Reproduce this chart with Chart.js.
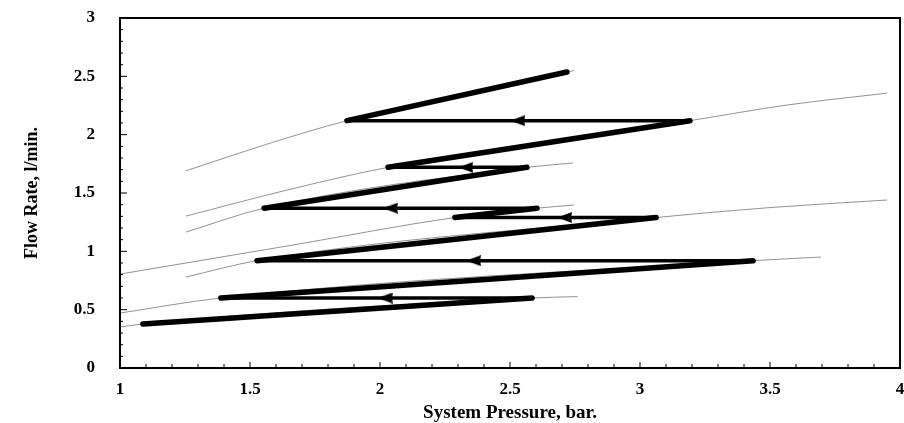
<!DOCTYPE html>
<html lang="en">
<head>
  <meta charset="UTF-8" />
  <title>Flow Rate vs System Pressure</title>
  <script src="https://cdn.jsdelivr.net/npm/chart.js"></script>
  <style>
    body {
      margin: 0;
      padding: 0;
      background: #fff;
    }
    .wrap {
      width: 904px;
      height: 423px;
      position: relative;
    }
  </style>
</head>
<body>
  <div class="wrap"><canvas id="flowChart"></canvas></div>
<script>
// zigzag test path: pressure (bar) and flow (l/min) at each turning point
const pathPressure = [1.088, 2.585, 1.388, 3.435, 1.527, 3.062, 2.288, 2.604, 1.554, 2.565, 2.031, 3.192, 1.873, 2.719];
const pathFlow     = [0.377, 0.60,  0.60,  0.92,  0.92,  1.29,  1.29,  1.37,  1.37,  1.72,  1.72,  2.12,  2.12,  2.537];

// arrow heads on the pressure-drop legs
const arrowPressure = [2.02, 2.36, 2.71, 2.04, 2.33, 2.53];
const arrowFlow     = [0.60, 0.92, 1.29, 1.37, 1.72, 2.12];

// thin fitted curves [pressure, flow]
const curve1 = [[1.254, 1.69], [1.56, 1.915], [1.873, 2.12], [2.719, 2.537], [2.746, 2.55]];
const curve2 = [[1.254, 1.302], [1.642, 1.525], [2.031, 1.72], [3.192, 2.12], [3.569, 2.255], [3.95, 2.356]];
const curve3 = [[1.254, 1.165], [1.554, 1.37], [2.565, 1.72], [2.742, 1.757]];
const curve4 = [[1.0, 0.805], [1.654, 1.05], [2.288, 1.29], [2.604, 1.37], [2.746, 1.397]];
const curve5 = [[1.254, 0.78], [1.527, 0.92], [3.062, 1.29], [3.5, 1.375], [3.95, 1.44]];
const curve6 = [[1.0, 0.471], [1.388, 0.60], [3.435, 0.92], [3.696, 0.951]];
const curve7 = [[1.0, 0.351], [1.088, 0.377], [2.585, 0.60], [2.76, 0.612]];

const xTicks = [1, 1.5, 2, 2.5, 3, 3.5, 4];
const yTicks = [0, 0.5, 1, 1.5, 2, 2.5, 3];

const serif = "'Liberation Serif', 'Times New Roman', serif";

// left pointing arrow head used as point style
const arrowImg = document.createElement("canvas");
arrowImg.width = 15;
arrowImg.height = 11;
(function () {
  const c = arrowImg.getContext("2d");
  c.fillStyle = "#000";
  c.beginPath();
  c.moveTo(0, 5.5);
  c.lineTo(15, 0);
  c.lineTo(14, 5.5);
  c.lineTo(15, 11);
  c.closePath();
  c.fill();
})();

const curveSets = [curve1, curve2, curve3, curve4, curve5, curve6, curve7].map(c => ({
  data: c.map(p => ({ x: p[0], y: p[1] })),
  showLine: true,
  borderColor: "#929292",
  borderWidth: 1,
  pointRadius: 0,
  cubicInterpolationMode: "monotone",
  order: 2
}));

// frame and inward tick marks
const framePlugin = {
  id: "frame",
  afterDraw(chart) {
    const { ctx, chartArea: a, scales } = chart;
    ctx.save();
    ctx.strokeStyle = "#000";
    ctx.lineWidth = 1;
    for (let i = 10; i <= 40; i++) {
      const px = scales.x.getPixelForValue(i / 10);
      const len = i % 5 === 0 ? 6 : 4;
      ctx.beginPath();
      ctx.moveTo(px, a.bottom);
      ctx.lineTo(px, a.bottom - len);
      ctx.stroke();
    }
    for (let i = 0; i <= 30; i++) {
      const py = scales.y.getPixelForValue(i / 10);
      const len = i % 5 === 0 ? 7 : 3;
      ctx.beginPath();
      ctx.moveTo(a.left, py);
      ctx.lineTo(a.left + len, py);
      ctx.stroke();
    }
    ctx.lineWidth = 2;
    ctx.strokeRect(a.left, a.top, a.right - a.left, a.bottom - a.top);
    ctx.restore();
  }
};

new Chart(document.getElementById("flowChart"), {
  type: "scatter",
  data: {
    datasets: [
      {
        data: arrowPressure.map((p, i) => ({ x: p, y: arrowFlow[i] })),
        showLine: false,
        pointStyle: arrowImg,
        pointRadius: 7,
        order: 0
      },
      {
        data: pathPressure.map((p, i) => ({ x: p, y: pathFlow[i] })),
        showLine: true,
        borderColor: "#000",
        borderWidth: 5,
        borderCapStyle: "round",
        pointRadius: 0,
        tension: 0,
        segment: {
          borderWidth: ctx => Math.abs(ctx.p0.parsed.y - ctx.p1.parsed.y) < 0.01 ? 3.5 : 5.5
        },
        order: 1
      },
      ...curveSets
    ]
  },
  options: {
    responsive: true,
    maintainAspectRatio: false,
    animation: false,
    layout: { autoPadding: false, padding: { top: 18, right: 4, left: 0, bottom: 0 } },
    plugins: {
      legend: { display: false },
      tooltip: { enabled: false }
    },
    scales: {
      x: {
        type: "linear",
        min: 1,
        max: 4,
        grid: { display: false },
        border: { display: false },
        afterBuildTicks: s => { s.ticks = xTicks.map(v => ({ value: v })); },
        afterFit: s => {
          s.height = 55;
          s.paddingLeft = 0;
          s.paddingRight = 0;
        },
        ticks: {
          color: "#000",
          padding: 3,
          maxRotation: 0,
          callback: v => String(v),
          font: { family: serif, size: 17, weight: "bold" }
        },
        title: {
          display: true,
          text: "System Pressure, bar.",
          color: "#000",
          padding: 0,
          font: { family: serif, size: 19, weight: "bold", lineHeight: 1.0 }
        }
      },
      y: {
        type: "linear",
        min: 0,
        max: 3,
        grid: { display: false },
        border: { display: false },
        afterBuildTicks: s => { s.ticks = yTicks.map(v => ({ value: v })); },
        afterFit: s => {
          s.width = 120;
          s.paddingTop = 0;
          s.paddingBottom = 0;
        },
        ticks: {
          color: "#000",
          padding: 17,
          callback: v => String(v),
          font: { family: serif, size: 17, weight: "bold" }
        },
        title: {
          display: true,
          text: "Flow Rate, l/min.",
          color: "#000",
          padding: { top: 22, bottom: 0 },
          font: { family: serif, size: 18, weight: "bold", lineHeight: 1.2 }
        }
      }
    }
  },
  plugins: [framePlugin]
});
</script>
</body>
</html>
